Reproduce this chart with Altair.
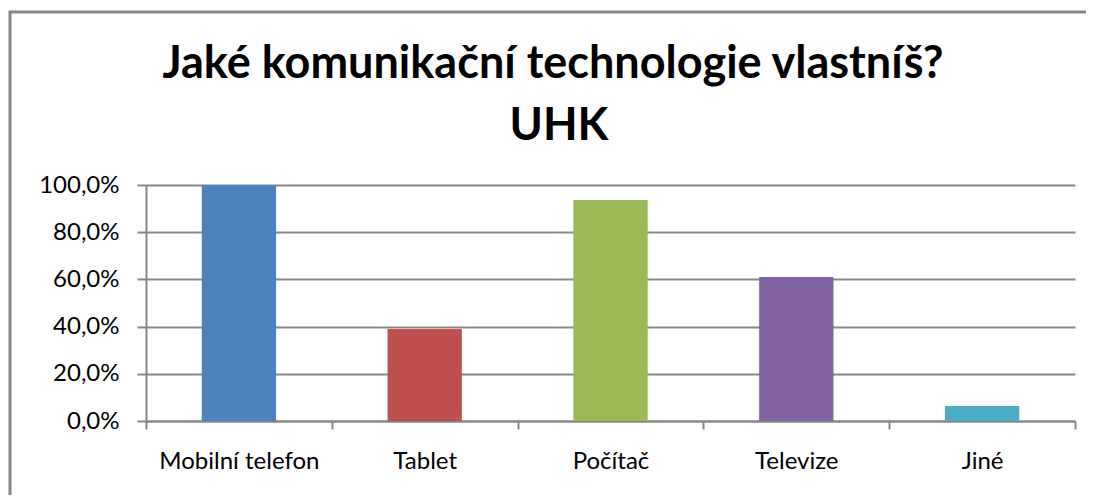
import altair as alt
import pandas as pd

categories = ["Mobilní telefon", "Tablet", "Počítač", "Televize", "Jiné"]
values = [1.0, 0.39, 0.936, 0.61, 0.064]
colors = ["#4F81BD", "#C0504D", "#9BBB59", "#8064A2", "#4BACC6"]
title_lines = ["Jaké komunikační technologie vlastníš?", "UHK"]

df = pd.DataFrame({"kategorie": categories, "podil": values})

W, H = 929, 236
grey = "#878787"
FONT = "Lato"

bars = alt.Chart(df).mark_bar(width=alt.RelativeBandSize(0.4)).encode(
    x=alt.X(
        "kategorie:N",
        sort=categories,
        scale=alt.Scale(paddingInner=0, paddingOuter=0),
        axis=alt.Axis(
            title=None,
            labelAngle=0,
            tickBand="extent",
            tickSize=8,
            tickWidth=2,
            tickColor=grey,
            domainColor=grey,
            domainWidth=2,
            labelFont=FONT,
            labelFontSize=24,
            labelColor="#000000",
            labelPadding=20,
            grid=False,
        ),
    ),
    y=alt.Y(
        "podil:Q",
        scale=alt.Scale(domain=[0, 1]),
        axis=alt.Axis(
            title=None,
            values=[0, 0.2, 0.4, 0.6, 0.8, 1.0],
            labelExpr="replace(format(datum.value, '.1%'), '.', ',')",
            tickSize=9,
            tickWidth=2,
            tickColor=grey,
            domainColor=grey,
            domainWidth=2,
            gridColor=grey,
            gridWidth=2,
            labelFont=FONT,
            labelFontSize=24,
            labelColor="#000000",
            labelPadding=18,
        ),
    ),
    color=alt.Color(
        "kategorie:N",
        scale=alt.Scale(domain=categories, range=colors),
        legend=None,
    ),
)

one = pd.DataFrame({"a": [0]})

frame = alt.Chart(one).mark_rect(
    fillOpacity=0, stroke=grey, strokeWidth=3
).encode(
    x=alt.value(-136),
    x2=alt.value(W + 40),
    y=alt.value(-173),
    y2=alt.value(H + 200),
)

title_style = dict(font=FONT, fontSize=45, fontWeight="bold", color="#000000",
                   align="center", baseline="alphabetic")

title1 = alt.Chart(one).mark_text(**title_style).encode(
    x=alt.value(407), y=alt.value(-107), text=alt.value(title_lines[0])
)
title2 = alt.Chart(one).mark_text(**title_style).encode(
    x=alt.value(413), y=alt.value(-45), text=alt.value(title_lines[1])
)

chart = alt.layer(frame, bars, title1, title2).properties(
    width=W,
    height=H,
    autosize=alt.AutoSizeParams(type="none"),
    padding={"left": 138, "top": 177, "right": 11, "bottom": 74},
).configure_view(strokeWidth=0)

chart.save("out.html", embed_options={"renderer": "svg", "actions": False})
